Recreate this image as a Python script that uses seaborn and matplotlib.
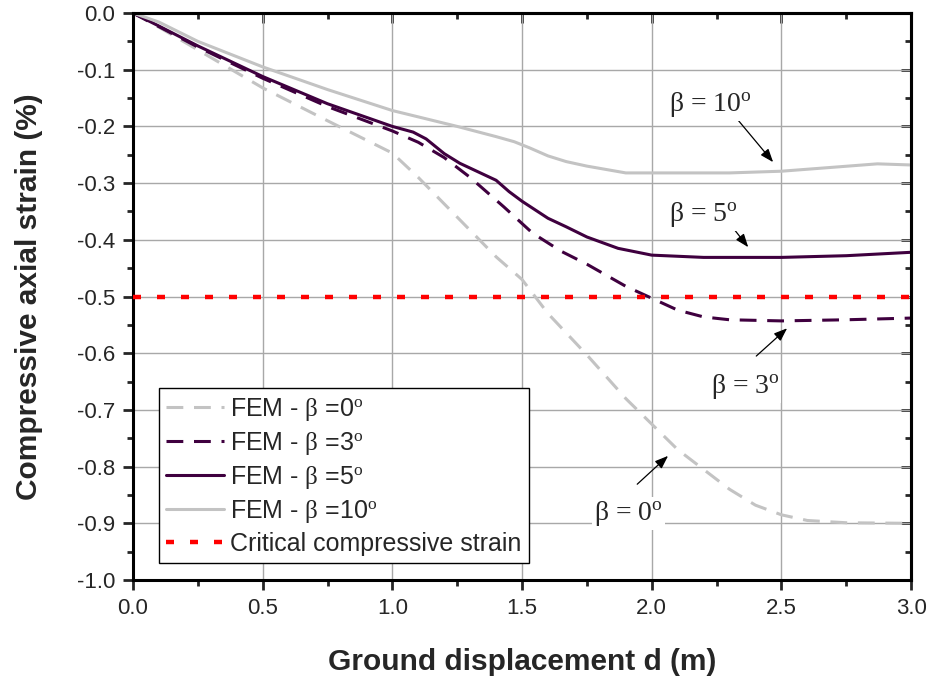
import matplotlib
matplotlib.use("Agg")
from matplotlib import pyplot as plt
from matplotlib.font_manager import FontProperties
from matplotlib.ticker import MultipleLocator, FormatStrFormatter
import seaborn as sns

x_b0 = [0, 0.1, 0.25, 0.5, 0.75, 1.0, 1.1, 1.25, 1.4, 1.5, 1.6, 1.75, 1.9, 2.0,
        2.1, 2.2, 2.3, 2.4, 2.5, 2.6, 2.75, 3.0]
y_b0 = [0, -0.025, -0.065, -0.132, -0.19, -0.247, -0.29, -0.36, -0.43, -0.47,
        -0.53, -0.603, -0.68, -0.725, -0.77, -0.805, -0.84, -0.868, -0.885,
        -0.895, -0.899, -0.9]

x_b3 = [0, 0.1, 0.25, 0.5, 0.75, 1.0, 1.1, 1.2, 1.3, 1.43, 1.54, 1.65, 1.75,
        1.9, 2.0, 2.1, 2.2, 2.3, 2.5, 2.75, 3.0]
y_b3 = [0, -0.024, -0.06, -0.115, -0.165, -0.208, -0.228, -0.255, -0.29,
        -0.342, -0.388, -0.42, -0.443, -0.482, -0.503, -0.524, -0.536, -0.541,
        -0.543, -0.541, -0.538]

x_b5 = [0, 0.1, 0.25, 0.5, 0.75, 1.0, 1.08, 1.13, 1.2, 1.26, 1.33, 1.4, 1.45,
        1.5, 1.6, 1.67, 1.75, 1.87, 2.0, 2.2, 2.5, 2.75, 3.0]
y_b5 = [0, -0.023, -0.058, -0.112, -0.16, -0.2, -0.21, -0.222, -0.248, -0.265,
        -0.28, -0.295, -0.315, -0.332, -0.362, -0.377, -0.395, -0.415, -0.427,
        -0.431, -0.431, -0.428, -0.422]

x_b10 = [0, 0.1, 0.25, 0.5, 0.75, 1.0, 1.25, 1.4, 1.47, 1.53, 1.6, 1.67, 1.75,
         1.9, 2.0, 2.3, 2.5, 2.7, 2.87, 3.0]
y_b10 = [0, -0.016, -0.05, -0.095, -0.135, -0.172, -0.2, -0.218, -0.227,
         -0.238, -0.252, -0.262, -0.27, -0.282, -0.282, -0.282, -0.279, -0.272,
         -0.266, -0.268]

critical_strain = -0.5

deg = "$^{\\mathrm{o}}$"
beta = "$\\mathrm{\\beta}$"
series_labels = ["FEM - " + beta + " =0" + deg,
                 "FEM - " + beta + " =3" + deg,
                 "FEM - " + beta + " =5" + deg,
                 "FEM - " + beta + " =10" + deg]
critical_label = "Critical compressive strain"

# annotation text position, arrow tail, arrow head (data coords)
note_text = ["\u03b2 = 10" + deg, "\u03b2 = 5" + deg,
             "\u03b2 = 3" + deg, "\u03b2 = 0" + deg]
note_xy_text = [(2.225, -0.162), (2.2, -0.356), (2.36, -0.658), (1.91, -0.883)]
note_tail = [(2.333, -0.189), (2.31, -0.377), (2.403, -0.605), (1.944, -0.831)]
note_head = [(2.468, -0.263), (2.372, -0.413), (2.522, -0.556), (2.063, -0.781)]

sns.set_style("white")
plt.rcParams["font.family"] = ["Liberation Sans", "DejaVu Sans"]
plt.rcParams["axes.unicode_minus"] = False
plt.rcParams["mathtext.fontset"] = "custom"
plt.rcParams["mathtext.rm"] = "Liberation Serif"
plt.rcParams["mathtext.it"] = "Liberation Serif:italic"

purple = "#3f003f"
lgray = "#c3c3c3"

fig = plt.figure(figsize=(9.3, 6.78), dpi=100)
ax = fig.add_axes([0.143, 0.1445, 0.8367, 0.8363])

sns.lineplot(x=x_b0, y=y_b0, ax=ax, color=lgray, lw=2.2,
             linestyle=(0, (5.5, 3.5)), label=series_labels[0])
sns.lineplot(x=x_b3, y=y_b3, ax=ax, color=purple, lw=2.2,
             linestyle=(0, (5.5, 3.5)), label=series_labels[1])
sns.lineplot(x=x_b5, y=y_b5, ax=ax, color=purple, lw=2.2,
             linestyle="-", label=series_labels[2])
sns.lineplot(x=x_b10, y=y_b10, ax=ax, color=lgray, lw=2.2,
             linestyle="-", label=series_labels[3])
ax.axhline(critical_strain, color="#ff0000", lw=3.2,
           linestyle=(0, (1.8, 3.6)), label=critical_label, zorder=3)

for t, xt, tail, head in zip(note_text, note_xy_text, note_tail, note_head):
    ax.annotate("", xy=head, xytext=tail,
                arrowprops=dict(arrowstyle="-|>,head_length=0.8,head_width=0.3",
                                color="black", lw=0.9, shrinkA=0, shrinkB=0))
    ax.text(xt[0], xt[1], t, ha="center", va="center",
            fontproperties=FontProperties(family="Liberation Serif", size=20),
            bbox=dict(facecolor="white", edgecolor="none", pad=1.5), zorder=4)

ax.set_xlim(0, 3.0)
ax.set_ylim(-1.0, 0.0)
ax.xaxis.set_major_locator(MultipleLocator(0.5))
ax.xaxis.set_minor_locator(MultipleLocator(0.25))
ax.yaxis.set_major_locator(MultipleLocator(0.1))
ax.yaxis.set_minor_locator(MultipleLocator(0.05))
ax.xaxis.set_major_formatter(FormatStrFormatter("%.1f"))
ax.yaxis.set_major_formatter(FormatStrFormatter("%.1f"))
ax.grid(True, which="major", color="#a8a8a8", lw=1.0)
ax.tick_params(which="major", direction="out", length=7, width=2,
               labelsize=16, pad=6)
ax.tick_params(which="minor", direction="out", length=4.5, width=2)
ax.tick_params(bottom=True, left=True, which="both")
for s in ax.spines.values():
    s.set_linewidth(2.2)
    s.set_color("black")

top = ax.secondary_xaxis("top")
top.xaxis.set_major_locator(MultipleLocator(0.5))
top.xaxis.set_minor_locator(MultipleLocator(0.25))
top.tick_params(which="major", direction="in", length=7, width=2, labeltop=False)
top.tick_params(which="minor", direction="in", length=4.5, width=2)
right = ax.secondary_yaxis("right")
right.yaxis.set_major_locator(MultipleLocator(0.1))
right.yaxis.set_minor_locator(MultipleLocator(0.05))
right.tick_params(which="major", direction="in", length=7, width=2, labelright=False)
right.tick_params(which="minor", direction="in", length=4.5, width=2)
for sec in (top, right):
    for s in sec.spines.values():
        s.set_linewidth(2.2)

ax.set_xlabel("Ground displacement d (m)", fontsize=21.5, fontweight="bold",
              labelpad=21)
ax.set_ylabel("Compressive axial strain (%)", fontsize=21.5, fontweight="bold",
              labelpad=24)

leg = ax.legend(loc="lower left", bbox_to_anchor=(0.033, 0.03),
                prop=FontProperties(family="Liberation Sans", size=18),
                frameon=True, fancybox=False, handlelength=2.3,
                borderaxespad=0, labelspacing=0.28, handletextpad=0.25,
                borderpad=0.3)
leg.get_frame().set_edgecolor("black")
leg.get_frame().set_linewidth(1.0)
leg.get_frame().set_alpha(1)
leg.set_zorder(5)

fig.savefig("out.png", dpi=100)
